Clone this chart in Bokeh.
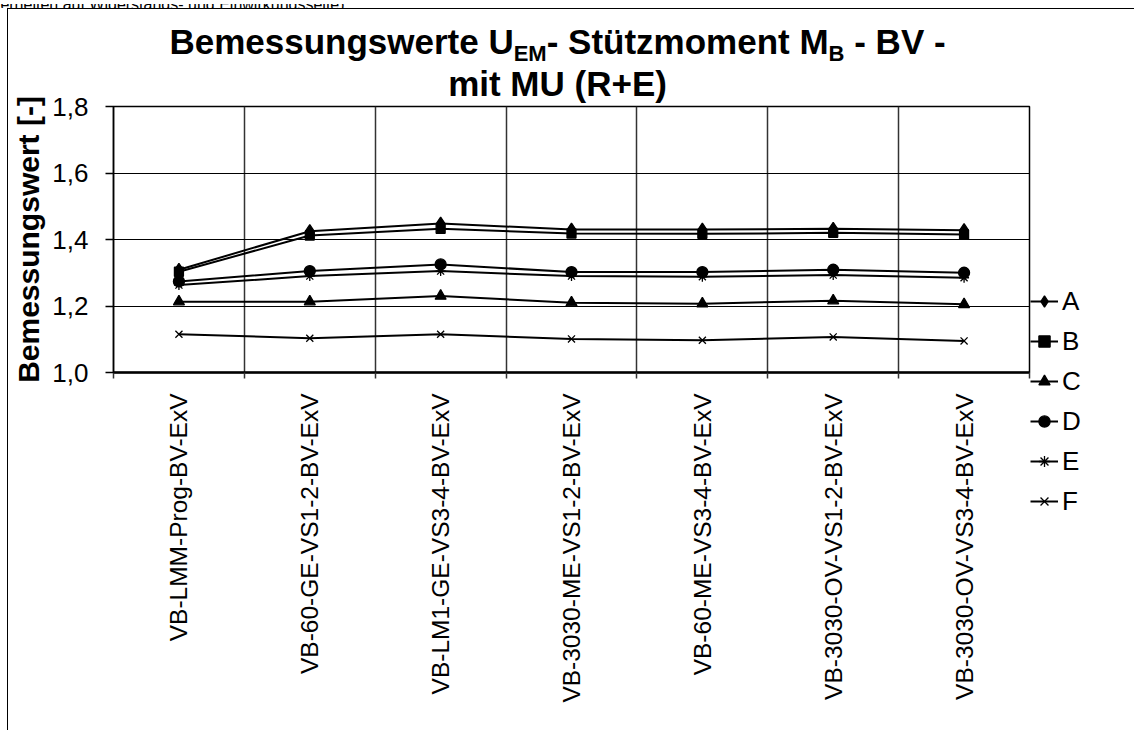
from bokeh.plotting import figure
from bokeh.models import (Range1d, FixedTicker, Legend, LegendItem, CustomJSTickFormatter, Div)
from bokeh.layouts import column
from bokeh.embed import file_html
from bokeh.resources import INLINE
from math import pi

# ---------------- data ----------------
categories = ["VB-LMM-Prog-BV-ExV", "VB-60-GE-VS1-2-BV-ExV", "VB-LM1-GE-VS3-4-BV-ExV",
              "VB-3030-ME-VS1-2-BV-ExV", "VB-60-ME-VS3-4-BV-ExV", "VB-3030-OV-VS1-2-BV-ExV",
              "VB-3030-OV-VS3-4-BV-ExV"]
series_names = ["A", "B", "C", "D", "E", "F"]
vals_A = [1.309, 1.425, 1.448, 1.430, 1.430, 1.432, 1.428]
vals_B = [1.303, 1.412, 1.432, 1.418, 1.417, 1.420, 1.415]
vals_C = [1.213, 1.213, 1.230, 1.210, 1.207, 1.216, 1.205]
vals_D = [1.274, 1.305, 1.325, 1.302, 1.302, 1.309, 1.300]
vals_E = [1.263, 1.290, 1.305, 1.290, 1.288, 1.293, 1.285]
vals_F = [1.115, 1.103, 1.115, 1.101, 1.097, 1.107, 1.095]
y_ticks = [1.0, 1.2, 1.4, 1.6, 1.8]

FONT = "Liberation Sans"

n = len(categories)
xc = [i + 0.5 for i in range(n)]

p = figure(frame_width=916, frame_height=266, output_backend="svg", toolbar_location=None,
           x_range=Range1d(0, n), y_range=Range1d(y_ticks[0], y_ticks[-1]),
           min_border_left=105, min_border_right=60, min_border_top=27, min_border_bottom=358,
           margin=(-20, 0, 0, 0))
p.background_fill_color = "white"
p.border_fill_alpha = 0
p.outline_line_color = "black"
p.outline_line_width = 1.5

# x axis
xa = p.xaxis[0]
xa.ticker = FixedTicker(ticks=xc, minor_ticks=list(range(n + 1)))
xa.major_label_overrides = {x: c for x, c in zip(xc, categories)}
xa.major_label_orientation = pi / 2
xa.major_tick_out = 0
xa.major_tick_in = 0
xa.minor_tick_out = 6
xa.minor_tick_in = 0
xa.minor_tick_line_color = "#333333"
xa.minor_tick_line_width = 1.5
xa.axis_line_color = "black"
xa.axis_line_width = 2.5
xa.major_label_standoff = 15
xa.major_label_text_font = FONT
xa.major_label_text_font_size = "24.5px"
xa.major_label_text_color = "black"

# y axis
ya = p.yaxis[0]
ya.ticker = FixedTicker(ticks=y_ticks, minor_ticks=[])
ya.formatter = CustomJSTickFormatter(code="return tick.toFixed(1).replace('.', ',');")
ya.major_tick_out = 8
ya.major_tick_in = 0
ya.major_tick_line_color = "black"
ya.major_tick_line_width = 1.5
ya.axis_line_color = "black"
ya.axis_line_width = 1.5
ya.major_label_standoff = 17
ya.major_label_text_font = FONT
ya.major_label_text_font_size = "26px"
ya.major_label_text_color = "black"
ya.axis_label = "Bemessungswert [-]"
ya.axis_label_text_font = FONT
ya.axis_label_text_font_size = "30px"
ya.axis_label_text_font_style = "bold"
ya.axis_label_text_color = "black"
ya.axis_label_standoff = 4

# grids
p.xgrid.ticker = FixedTicker(ticks=list(range(1, n)))
p.ygrid.ticker = FixedTicker(ticks=y_ticks[1:-1])
p.xgrid.grid_line_color = "#333333"
p.xgrid.grid_line_width = 1.5
p.ygrid.grid_line_color = "black"
p.ygrid.grid_line_width = 1.2

# series
markers = ["diamond", "square", "triangle", "circle", "asterisk", "x"]
sizes = [13, 9, 11, 11, 10, 10]
all_vals = [vals_A, vals_B, vals_C, vals_D, vals_E, vals_F]
items = []
for name, vals, mk, sz in zip(series_names, all_vals, markers, sizes):
    lr = p.line(xc, vals, line_color="black", line_width=2)
    sr = p.scatter(xc, vals, marker=mk, size=sz, fill_color="black", line_color="black",
                   line_width=1.3)
    items.append(LegendItem(label=name, renderers=[lr, sr]))

legend = Legend(items=items, location=(1, -149))
legend.border_line_color = None
legend.background_fill_alpha = 0
legend.padding = 0
legend.margin = 0
legend.spacing = 0
legend.glyph_width = 28
legend.glyph_height = 40
legend.label_height = 40
legend.label_standoff = 4
legend.label_text_font = FONT
legend.label_text_font_size = "26px"
legend.label_text_color = "black"
p.add_layout(legend, "right")

# cut-off header line at the very top of the page
header = Div(
    text=("<div style=\"height:8px;overflow:hidden\"><div style=\"margin-top:-7px;"
          "margin-left:-93px;white-space:nowrap;font-family:'Liberation Sans';font-size:16px;"
          "line-height:16px;color:black\">"
          "Modellunsicherheiten auf Widerstands- und Einwirkungsseite)</div></div>"),
    width=1120, height=8, margin=0, styles={"overflow": "hidden"})

SUB = "<span style=\"font-size:22px;vertical-align:-7px;line-height:0\">{}</span>"
title = Div(
    text=("<div style=\"width:1124px;box-sizing:border-box;font-family:'Liberation Sans';"
          "font-weight:bold;font-size:35px;line-height:42px;text-align:center;color:black;"
          "padding-top:12px;padding-right:25px;white-space:nowrap\">"
          "Bemessungswerte U" + SUB.format("EM") + "- Stützmoment M" + SUB.format("B") +
          " - BV -<br>mit MU (R+E)</div>"),
    width=1124, height=90, margin=0)

box = column(title, p, margin=0,
             styles={"border-left": "1.5px solid black", "border-top": "1.5px solid black",
                     "margin-left": "7px"})
layout = column(header, box, margin=0)

open("out.html", "w").write(file_html(layout, INLINE))
